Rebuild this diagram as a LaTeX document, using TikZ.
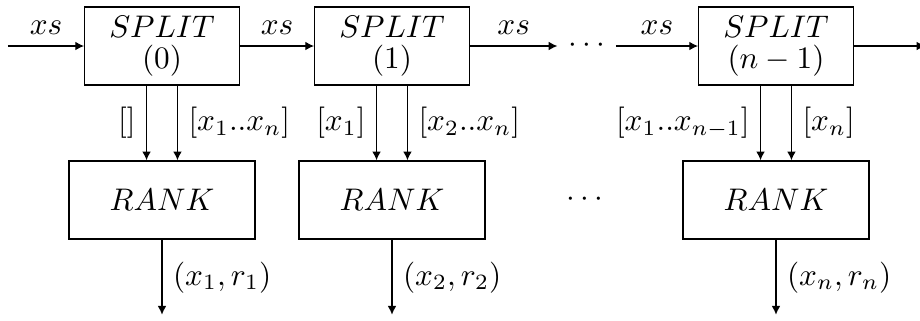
\documentclass[tikz,border=0pt]{standalone}
\usepackage{tikz}
\usetikzlibrary{arrows.meta, positioning}

\begin{document}
\begin{tikzpicture}[
  splitbox/.style={draw, minimum width=1.74cm, minimum height=0.88cm, align=center, inner sep=1pt},
  rankbox/.style={draw, minimum width=2.09cm, minimum height=0.88cm, align=center},
  arr/.style={-{Latex[length=2.8pt, width=2.8pt]}}
]
  \useasboundingbox (0,0) rectangle (10.35,-3.6);

  \node[splitbox] (split0) at (1.8225,-0.5175) {$SPLIT$\\[-2pt]$(0)$};
  \node[splitbox] (split1) at (4.41,-0.5175) {$SPLIT$\\[-2pt]$(1)$};
  \node[splitbox] (splitn) at (8.73,-0.5175) {$SPLIT$\\[-2pt]$(n-1)$};
  \node (dotsa) at (6.6,-0.5175) {$\cdots$};

  \node[rankbox] (rank0) at (1.8225,-2.25) {$RANK$};
  \node[rankbox] (rank1) at (4.41,-2.25) {$RANK$};
  \node[rankbox] (rankn) at (8.73,-2.25) {$RANK$};
  \node (dotsb) at (6.58,-2.25) {$\cdots$};

  \coordinate (in) at (0.09,-0.5175);
  \coordinate (out) at (10.41,-0.5175);
  \coordinate (r0) at (1.8225,-3.54);
  \coordinate (r1) at (4.41,-3.54);
  \coordinate (rn) at (8.73,-3.54);

  \draw[arr] (in) -- node[above] {$xs$} (split0);
  \draw[arr] (split0) -- node[above] {$xs$} (split1);
  \draw[arr] (split1) -- node[above] {$xs$} (dotsa);
  \draw[arr] (dotsa) -- node[above] {$xs$} (splitn);
  \draw[arr] (splitn) -- (out);

  \draw[arr] ([xshift=-0.174cm]split0.south) -- node[left] {$[]$} ([xshift=-0.174cm]rank0.north);
  \draw[arr] ([xshift=0.174cm]split0.south) -- node[right] {$[x_1..x_n]$} ([xshift=0.174cm]rank0.north);
  \draw[arr] ([xshift=-0.174cm]split1.south) -- node[left] {$[x_1]$} ([xshift=-0.174cm]rank1.north);
  \draw[arr] ([xshift=0.174cm]split1.south) -- node[right] {$[x_2..x_n]$} ([xshift=0.174cm]rank1.north);
  \draw[arr] ([xshift=-0.174cm]splitn.south) -- node[left] {$[x_1..x_{n-1}]$} ([xshift=-0.174cm]rankn.north);
  \draw[arr] ([xshift=0.174cm]splitn.south) -- node[right] {$[x_n]$} ([xshift=0.174cm]rankn.north);

  \draw[arr] (rank0) -- node[right] {$(x_1,r_1)$} (r0);
  \draw[arr] (rank1) -- node[right] {$(x_2,r_2)$} (r1);
  \draw[arr] (rankn) -- node[right] {$(x_n,r_n)$} (rn);
\end{tikzpicture}
\end{document}
